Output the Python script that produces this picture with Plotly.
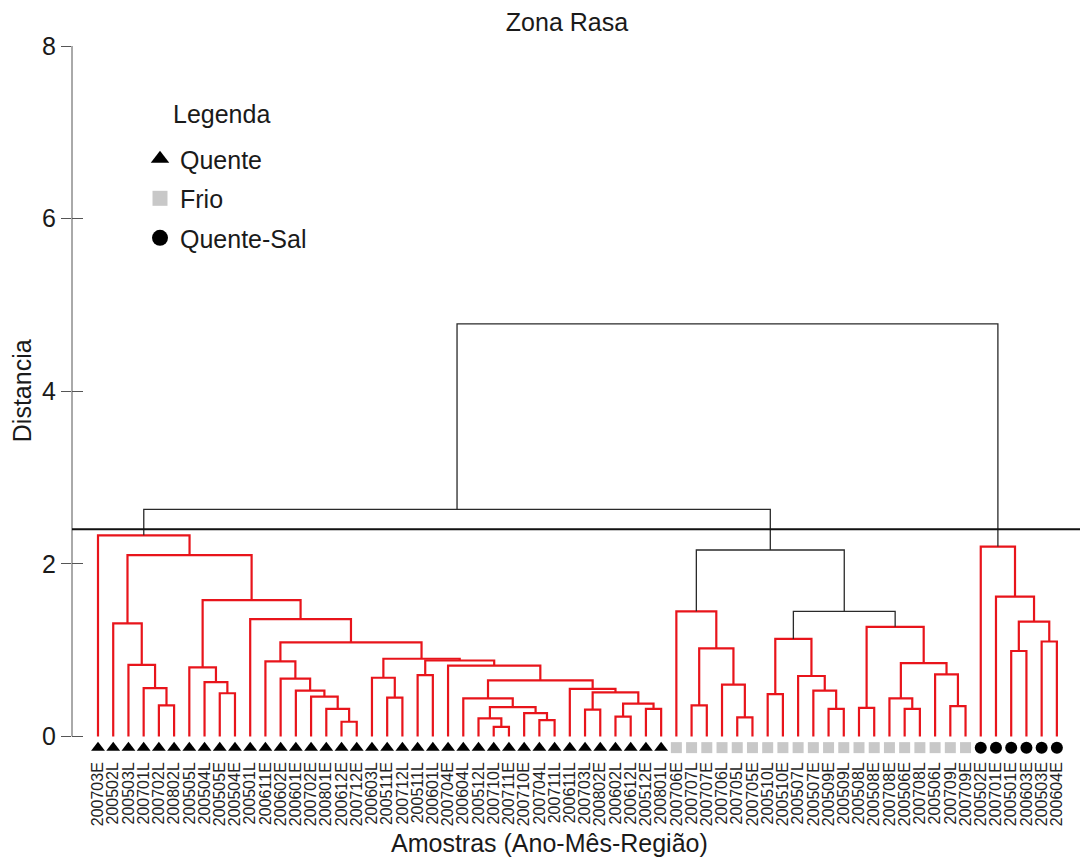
import plotly.graph_objects as go

# Samples in dendrogram leaf order, grouped by water-mass class
quente_samples = [
    "200703E", "200502L", "200503L", "200701L", "200702L", "200802L", "200505L",
    "200504L", "200505E", "200504E", "200501L", "200611E", "200602E", "200601E",
    "200702E", "200801E", "200612E", "200712E", "200603L", "200511E", "200712L",
    "200511L", "200601L", "200704E", "200604L", "200512L", "200710L", "200711E",
    "200710E", "200704L", "200711L", "200611L", "200703L", "200802E", "200602L",
    "200612L", "200512E", "200801L",
]
frio_samples = [
    "200706E", "200707L", "200707E", "200706L", "200705L", "200705E", "200510L",
    "200510E", "200507L", "200507E", "200509E", "200509L", "200508L", "200508E",
    "200708E", "200506E", "200708L", "200506L", "200709L", "200709E",
]
quente_sal_samples = ["200502E", "200701E", "200501E", "200603E", "200503E", "200604E"]

leaf_labels = quente_samples + frio_samples + quente_sal_samples

# Agglomeration steps: (left, right, distance); a string is a sample,
# an integer refers to an earlier step in this list.
merges = [
    ("200702L", "200802L", 0.36),   # 0
    ("200701L", 0, 0.56),           # 1
    ("200503L", 1, 0.83),           # 2
    ("200502L", 2, 1.31),           # 3
    ("200505E", "200504E", 0.50),   # 4
    ("200504L", 4, 0.63),           # 5
    ("200505L", 5, 0.80),           # 6
    ("200612E", "200712E", 0.17),   # 7
    ("200801E", 7, 0.32),           # 8
    ("200702E", 8, 0.46),           # 9
    ("200601E", 9, 0.53),           # 10
    ("200602E", 10, 0.67),          # 11
    ("200611E", 11, 0.87),          # 12
    ("200511E", "200712L", 0.45),   # 13
    ("200603L", 13, 0.68),          # 14
    ("200511L", "200601L", 0.71),   # 15
    ("200710L", "200711E", 0.11),   # 16
    ("200512L", 16, 0.21),          # 17
    ("200704L", "200711L", 0.19),   # 18
    ("200710E", 18, 0.27),          # 19
    (17, 19, 0.34),                 # 20
    ("200604L", 20, 0.44),          # 21
    ("200703L", "200802E", 0.31),   # 22
    ("200602L", "200612L", 0.23),   # 23
    ("200512E", "200801L", 0.32),   # 24
    (23, 24, 0.38),                 # 25
    (22, 25, 0.51),                 # 26
    ("200611L", 26, 0.55),          # 27
    (21, 27, 0.65),                 # 28
    ("200704E", 28, 0.82),          # 29
    (15, 29, 0.88),                 # 30
    (14, 30, 0.90),                 # 31
    (12, 31, 1.09),                 # 32
    ("200501L", 32, 1.36),          # 33
    (6, 33, 1.58),                  # 34
    (3, 34, 2.10),                  # 35
    ("200703E", 35, 2.33),          # 36
    ("200707L", "200707E", 0.36),   # 37
    ("200705L", "200705E", 0.22),   # 38
    ("200706L", 38, 0.60),          # 39
    (37, 39, 1.02),                 # 40
    ("200706E", 40, 1.45),          # 41
    ("200510L", "200510E", 0.49),   # 42
    ("200509E", "200509L", 0.32),   # 43
    ("200507E", 43, 0.53),          # 44
    ("200507L", 44, 0.70),          # 45
    (42, 45, 1.13),                 # 46
    ("200508L", "200508E", 0.33),   # 47
    ("200506E", "200708L", 0.32),   # 48
    ("200708E", 48, 0.44),          # 49
    ("200709L", "200709E", 0.35),   # 50
    ("200506L", 50, 0.72),          # 51
    (49, 51, 0.85),                 # 52
    (47, 52, 1.27),                 # 53
    (46, 53, 1.45),                 # 54
    (41, 54, 2.16),                 # 55
    ("200501E", "200603E", 0.99),   # 56
    ("200503E", "200604E", 1.10),   # 57
    (56, 57, 1.33),                 # 58
    ("200701E", 58, 1.62),          # 59
    ("200502E", 59, 2.20),          # 60
    (36, 55, 2.63),                 # 61
    (61, 60, 4.78),                 # 62
]

# Steps linking the main groups together are drawn in black
linking_steps = {54, 55, 61, 62}

cut_distance = 2.4
y_ticks = [0, 2, 4, 6, 8]

RED = "#e8141b"
DARK = "#2a2a2a"
FONT = "Liberation Sans, Arial, sans-serif"
TXT = 25

# plot area: distance 8 at y=46 px, distance 0 at y=736 px, symbol row below 0
Y_MIN, Y_MAX = -0.25, 8.0
TOP_PX, ZERO_PX, H_PX = 46, 736, 859
UNIT_PX = (ZERO_PX - TOP_PX) / Y_MAX
BOTTOM_PX = ZERO_PX - Y_MIN * UNIT_PX


def py(px):
    """paper y coordinate for a pixel row"""
    return (BOTTOM_PX - px) / (BOTTOM_PX - TOP_PX)


def px_x(px):
    """paper x coordinate for a pixel column"""
    return (px - 72) / 1008


leaf_pos = {name: i for i, name in enumerate(leaf_labels)}
node_x, node_h = [], []


def locate(ref):
    if isinstance(ref, str):
        return float(leaf_pos[ref]), 0.0
    return node_x[ref], node_h[ref]


red_x, red_y, blk_x, blk_y = [], [], [], []
for k, (a, b, h) in enumerate(merges):
    xa, ha = locate(a)
    xb, hb = locate(b)
    node_x.append((xa + xb) / 2)
    node_h.append(h)
    xs, ys = (blk_x, blk_y) if k in linking_steps else (red_x, red_y)
    xs += [xa, xa, xb, xb, None]
    ys += [ha, h, h, hb, None]

fig = go.Figure()
fig.add_trace(go.Scatter(x=red_x, y=red_y, mode="lines",
                         line=dict(color=RED, width=2.2),
                         hoverinfo="skip", showlegend=False))
fig.add_trace(go.Scatter(x=blk_x, y=blk_y, mode="lines",
                         line=dict(color=DARK, width=1.3),
                         hoverinfo="skip", showlegend=False))

# Class symbols under each leaf, plus legend entries
classes = [
    ("Quente", quente_samples, "triangle-up", "#000000", 12, 17),
    ("Frio", frio_samples, "square", "#c8c8c8", 11, 15),
    ("Quente-Sal", quente_sal_samples, "circle", "#000000", 12, 16),
]
marker_level = -0.13
for name, samples, symbol, color, size, legend_size in classes:
    fig.add_trace(go.Scatter(
        x=[leaf_pos[s] for s in samples], y=[marker_level] * len(samples),
        mode="markers", cliponaxis=False, showlegend=False, hoverinfo="skip",
        marker=dict(symbol=symbol, color=color, size=size, line=dict(width=0)),
    ))
    fig.add_trace(go.Scatter(
        x=[None], y=[None], mode="markers", name=name, legendgroup=name,
        marker=dict(symbol=symbol, color=color, size=legend_size, line=dict(width=0)),
    ))

# empty trace so the overlaid axis carrying the inner tick marks is drawn
fig.add_trace(go.Scatter(x=[None], y=[None], yaxis="y2", showlegend=False, hoverinfo="skip"))

# vertical axis line only spans the distance scale
fig.add_shape(type="line", xref="paper", x0=0, x1=0, yref="y", y0=0, y1=Y_MAX,
              line=dict(color="#555555", width=1))
# cut level
fig.add_shape(type="line", xref="paper", x0=0, x1=1, yref="y",
              y0=cut_distance, y1=cut_distance,
              line=dict(color="#111111", width=2))

fig.update_layout(
    width=1080, height=H_PX,
    margin=dict(l=72, r=0, t=TOP_PX, b=H_PX - BOTTOM_PX),
    paper_bgcolor="white", plot_bgcolor="white",
    font=dict(family=FONT, color="#1a1a1a", size=TXT),
    title=dict(text="Zona Rasa", x=567 / 1080, xref="container", xanchor="center",
               y=1 - 22 / H_PX, yref="container", yanchor="middle",
               font=dict(size=TXT, color="#1a1a1a")),
    xaxis=dict(range=[-1.708, 64.52], tickmode="array",
               tickvals=list(range(len(leaf_labels))), ticktext=leaf_labels,
               tickangle=-90, tickfont=dict(size=16, color="#222222"),
               ticks="", ticklabelstandoff=0,
               showgrid=False, zeroline=False, showline=False),
    yaxis=dict(range=[Y_MIN, Y_MAX], tickmode="array", tickvals=y_ticks,
               ticks="outside", ticklen=10, tickwidth=1, tickcolor="#555555",
               showline=False, showgrid=False, zeroline=False,
               tickfont=dict(size=TXT)),
    yaxis2=dict(range=[Y_MIN, Y_MAX], overlaying="y", side="left", anchor="x",
                tickmode="array", tickvals=y_ticks, ticks="inside", ticklen=11,
                tickwidth=1, tickcolor="#555555", showticklabels=False,
                showline=False, showgrid=False, zeroline=False),
    legend=dict(x=px_x(140), y=py(136), xanchor="left", yanchor="top",
                font=dict(size=TXT), traceorder="grouped", tracegroupgap=4,
                bgcolor="rgba(0,0,0,0)", itemclick=False),
    annotations=[
        dict(text="Legenda", xref="paper", yref="paper", x=px_x(221), y=py(114),
             xanchor="center", yanchor="middle", showarrow=False,
             font=dict(size=TXT)),
        dict(text="Amostras (Ano-Mês-Região)", xref="paper", yref="paper",
             x=px_x(549), y=py(843), xanchor="center",
             yanchor="middle", showarrow=False, font=dict(size=TXT)),
        dict(text="Distancia", xref="paper", yref="paper", textangle=-90,
             x=px_x(22), y=py(391), xanchor="center", yanchor="middle",
             showarrow=False, font=dict(size=TXT)),
    ],
)

fig.write_html("out.html")
